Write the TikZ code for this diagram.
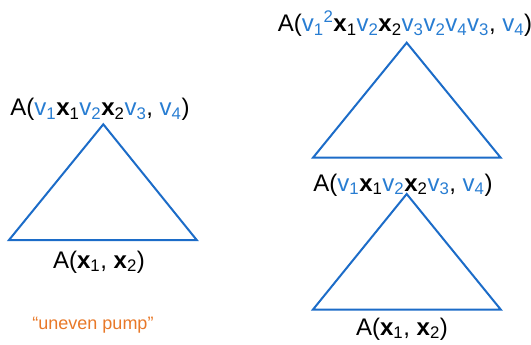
\documentclass[tikz,border=0pt]{standalone}
\usepackage{fontspec}
\setmainfont{Liberation Sans}
\definecolor{triblue}{RGB}{28,108,200}
\definecolor{vblue}{RGB}{40,125,210}
\definecolor{pumporange}{RGB}{232,120,40}
\newcommand\vv[1]{\textcolor{vblue}{v\textsubscript{#1}}}
\newcommand\vvsq[1]{\textcolor{vblue}{v\textsubscript{#1}\textsuperscript{2}}}
\newcommand\xx[1]{\textbf{x}\textsubscript{#1}}
\begin{document}
\begin{tikzpicture}[x=1pt,y=-1pt,
  tri/.style={draw=triblue,line width=2pt,line join=miter},
  lab/.style={anchor=base,inner sep=0pt,font=\fontsize{24}{28}\selectfont},
  note/.style={anchor=base,inner sep=0pt,text=pumporange,font=\fontsize{18}{22}\selectfont}]
\useasboundingbox (0,0) rectangle (531,345);
% left triangle
\draw[tri] (103.3,124.3) -- (9,240) -- (196.7,240) -- cycle;
% right top triangle
\draw[tri] (406.7,42.7) -- (313,157.7) -- (500.7,157.7) -- cycle;
% right bottom triangle
\draw[tri] (406.7,194) -- (313,309.5) -- (500.7,309.5) -- cycle;
% labels
\node[lab] (ltop) at (100,116) {A(\vv{1}\xx{1}\vv{2}\xx{2}\vv{3}, \vv{4})};
\node[lab] (lbot) at (99,268) {A(\xx{1}, \xx{2})};
\node[lab] (rtop) at (405,32) {A(\vvsq{1}\xx{1}\vv{2}\xx{2}\vv{3}\vv{2}\vv{4}\vv{3}, \vv{4})};
\node[lab] (rmid) at (403,191) {A(\vv{1}\xx{1}\vv{2}\xx{2}\vv{3}, \vv{4})};
\node[lab] (rbot) at (402,335) {A(\xx{1}, \xx{2})};
\node[note] (pump) at (93,329) {“uneven pump”};
\end{tikzpicture}
\end{document}
